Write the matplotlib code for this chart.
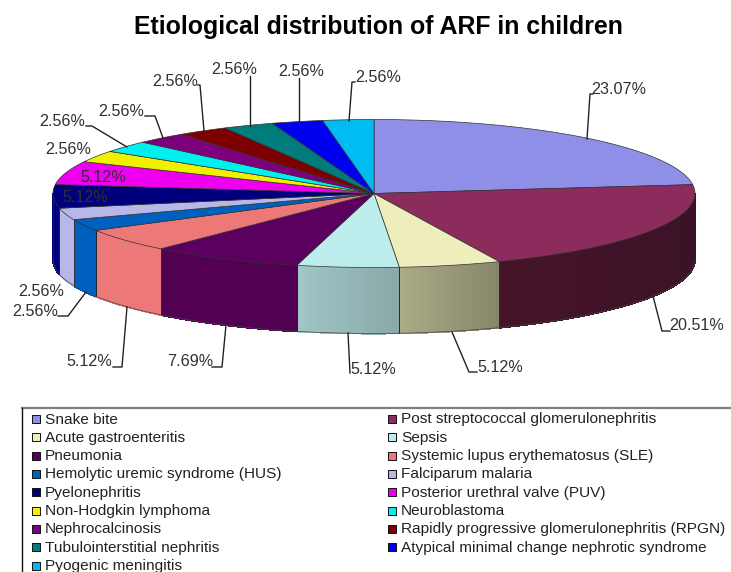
import numpy as np
import matplotlib
matplotlib.use("Agg")
import matplotlib.pyplot as plt

# dados
categorias = [
    "Snake bite", "Post streptococcal glomerulonephritis", "Acute gastroenteritis", "Sepsis",
    "Pneumonia", "Systemic lupus erythematosus (SLE)", "Hemolytic uremic syndrome (HUS)",
    "Falciparum malaria", "Pyelonephritis", "Posterior urethral valve (PUV)",
    "Non-Hodgkin lymphoma", "Neuroblastoma", "Nephrocalcinosis",
    "Rapidly progressive glomerulonephritis (RPGN)", "Tubulointerstitial nephritis",
    "Atypical minimal change nephrotic syndrome", "Pyogenic meningitis",
]
valores = [23.07, 20.51, 5.12, 5.12, 7.69, 5.12, 2.56, 2.56, 5.12, 5.12,
           2.56, 2.56, 2.56, 2.56, 2.56, 2.56, 2.56]

cores_topo = ["#8f8fe8", "#8b2c5c", "#eeeebc", "#bcecec", "#5c0060", "#ec7878", "#0060c0",
              "#b8b8e8", "#00007c", "#f000f0", "#f0f000", "#00f0f0", "#7c007c", "#7c0000",
              "#007c7c", "#0000f0", "#00bcf0"]
# parede lateral: cor inicial e final de cada fatia (sentido horario)
cores_lado = {
    1: ("#3a1226", "#451429"), 2: ("#86866a", "#aaaa86"), 3: ("#8aa8a8", "#a0c6c6"),
    4: ("#520052", "#520052"), 5: ("#ec7878", "#ec7878"), 6: ("#0060c0", "#0060c0"),
    7: ("#b8b8e8", "#b8b8e8"), 8: ("#00007c", "#00007c"),
}

# texto, x, y do rotulo e linha guia em pixels
rotulos = [
    ("23.07%", 619, 89, [(587, 139), (590, 94), (593, 94)]),
    ("20.51%", 697, 326, [(653, 296), (662, 331), (670, 331)]),
    ("5.12%", 500, 368, [(452, 332), (469, 372), (477, 372)]),
    ("5.12%", 373, 369, [(348, 333), (350, 373)]),
    ("7.69%", 190, 362, [(226, 325), (222, 367), (212, 367)]),
    ("5.12%", 89, 362, [(127, 307), (122, 367), (113, 367)]),
    ("2.56%", 35, 312, [(86, 292), (68, 316), (58, 316)]),
    ("2.56%", 41, 291, None),
    ("5.12%", 85, 197, None),
    ("5.12%", 103, 178, None),
    ("2.56%", 68, 149, None),
    ("2.56%", 62, 122, [(127, 147), (92, 126), (86, 126)]),
    ("2.56%", 121, 112, [(163, 138), (155, 116), (145, 116)]),
    ("2.56%", 175, 82, [(204, 131), (200, 85), (198, 85)]),
    ("2.56%", 234, 69, [(250, 126), (250, 76)]),
    ("2.56%", 301, 71, [(299, 122), (299, 78)]),
    ("2.56%", 378, 78, [(349, 121), (352, 82), (355, 82)]),
]

CX, CY, RX, RY, PROF = 374, 193.5, 321, 74, 66

plt.rcParams["font.family"] = ["Liberation Sans", "DejaVu Sans"]


def ponto(ang):
    # angulo em graus a partir do topo, sentido horario
    r = np.radians(ang)
    return CX + RX * np.sin(r), CY - RY * np.cos(r)


def desenhar_paredes(ax, inicio, fim):
    for i in cores_lado:
        a, b = max(inicio[i], 90), min(fim[i], 270)
        if a >= b:
            continue
        c1, c2 = (np.array(matplotlib.colors.to_rgb(c)) for c in cores_lado[i])
        n = 24
        passos = np.linspace(a, b, n + 1)
        for k in range(n):
            angs = np.linspace(passos[k], passos[k + 1], 6)
            x, y = ponto(angs)
            xs = np.r_[x, x[::-1]]
            ys = np.r_[y, y[::-1] + PROF]
            cor = c1 + (c2 - c1) * k / (n - 1)
            ax.fill(xs, ys, facecolor=cor, edgecolor=cor, lw=0.8, antialiased=False, zorder=1)
        for ang in (a, b):
            x, y = ponto(ang)
            ax.plot([x, x], [y, y + PROF], color="#222222", lw=0.5, zorder=2)
    angs = np.linspace(90, 270, 300)
    x, y = ponto(angs)
    ax.plot(x, y + PROF, color="#444444", lw=0.5, zorder=2)


def desenhar_topo(ax, inicio, fim):
    for i, cor in enumerate(cores_topo):
        angs = np.linspace(inicio[i], fim[i], 80)
        x, y = ponto(angs)
        ax.fill(np.r_[CX, x], np.r_[CY, y], facecolor=cor, edgecolor="#303030", lw=0.5, zorder=3)


def desenhar_legenda(ax):
    ax.plot([22, 731], [408, 408], color="#808080", lw=1.6, zorder=5)
    ax.plot([22, 22], [408, 572], color="#111111", lw=1.0, zorder=5)
    for i, nome in enumerate(categorias):
        linha = i // 2
        y = 419 + linha * 18.32
        xm = 36 if i % 2 == 0 else 392
        ax.scatter([xm], [y], marker="s", s=36, color=cores_topo[i], edgecolors="#111111",
                   linewidths=0.7, zorder=6)
        ax.text(xm + 9, y + 0.5, nome, fontsize=11.1, color="#222222", va="center", ha="left", zorder=6)


def main():
    fig = plt.figure(figsize=(7.31, 5.72), dpi=100)
    ax = fig.add_axes([0, 0, 1, 1])
    ax.set_xlim(0, 731)
    ax.set_ylim(572, 0)
    ax.axis("off")

    acumulado = np.cumsum(valores) / np.sum(valores) * 360
    inicio = np.r_[0, acumulado[:-1]]
    fim = acumulado

    desenhar_paredes(ax, inicio, fim)
    desenhar_topo(ax, inicio, fim)

    ax.text(378.5, 27, "Etiological distribution of ARF in children", fontsize=17.9,
            fontweight="bold", color="#000000", ha="center", va="center", zorder=7)

    for texto, x, y, guia in rotulos:
        ax.text(x, y, texto, fontsize=11.6, color="#303030", ha="center", va="center", zorder=7)
        if guia:
            gx, gy = zip(*guia)
            ax.plot(gx, gy, color="#222222", lw=1.0, zorder=4)

    desenhar_legenda(ax)
    fig.savefig("out.png", dpi=100)
    plt.close(fig)


if __name__ == "__main__":
    main()
